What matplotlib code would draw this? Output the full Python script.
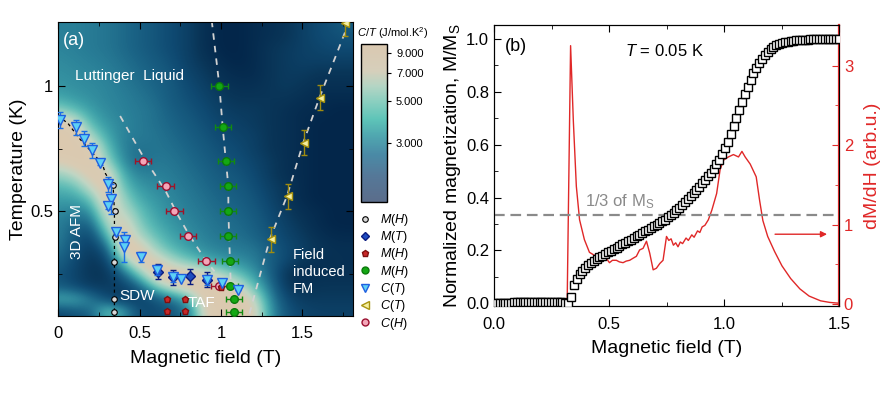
import numpy as np
import matplotlib.pyplot as plt
from matplotlib.colors import LinearSegmentedColormap, LogNorm, Normalize
from matplotlib.lines import Line2D
import matplotlib.cm as cm

plt.rcParams['font.family'] = ['Liberation Sans', 'DejaVu Sans']
plt.rcParams['mathtext.fontset'] = 'custom'
plt.rcParams['mathtext.rm'] = 'Liberation Sans'
plt.rcParams['mathtext.it'] = 'Liberation Sans:italic'
plt.rcParams['mathtext.bf'] = 'Liberation Sans:bold'

# ---------------- panel (a): C/T map ----------------
map_field = [0.0, 0.1, 0.2, 0.3, 0.4, 0.5, 0.6, 0.7, 0.8, 0.9,
             1.0, 1.1, 1.2, 1.3, 1.4, 1.5, 1.6, 1.7, 1.8]
map_temp = [1.25, 1.20, 1.15, 1.10, 1.05, 1.00, 0.95, 0.90, 0.85, 0.80,
            0.75, 0.70, 0.65, 0.60, 0.55, 0.50, 0.45, 0.40, 0.35, 0.30,
            0.25, 0.20, 0.15, 0.10, 0.05]
map_ct = [
    [3.0, 3.0, 2.9, 2.8, 2.6, 2.4, 2.2, 2.0, 1.8, 1.5, 1.3, 1.3, 1.4, 1.5, 1.6, 1.8, 2.0, 2.2, 2.4],
    [3.0, 3.0, 2.9, 2.8, 2.6, 2.4, 2.2, 2.0, 1.8, 1.5, 1.3, 1.3, 1.4, 1.5, 1.6, 1.8, 2.0, 2.1, 2.2],
    [3.1, 3.0, 2.9, 2.8, 2.6, 2.4, 2.2, 2.0, 1.8, 1.5, 1.3, 1.3, 1.4, 1.6, 1.7, 1.8, 1.9, 2.0, 2.0],
    [3.2, 3.1, 3.0, 2.9, 2.7, 2.5, 2.3, 2.1, 1.8, 1.6, 1.4, 1.3, 1.4, 1.6, 1.7, 1.8, 1.8, 1.8, 1.8],
    [3.3, 3.2, 3.1, 3.0, 2.8, 2.6, 2.4, 2.2, 1.9, 1.7, 1.5, 1.4, 1.4, 1.6, 1.7, 1.7, 1.6, 1.6, 1.6],
    [3.4, 3.3, 3.2, 3.1, 2.9, 2.7, 2.5, 2.3, 2.0, 1.8, 1.6, 1.5, 1.5, 1.6, 1.7, 1.6, 1.5, 1.5, 1.5],
    [3.8, 3.5, 3.3, 3.1, 3.0, 2.8, 2.6, 2.3, 2.1, 1.9, 1.7, 1.6, 1.6, 1.6, 1.6, 1.5, 1.4, 1.4, 1.4],
    [5.5, 4.5, 3.6, 3.2, 3.0, 2.9, 2.7, 2.4, 2.2, 2.0, 1.8, 1.7, 1.7, 1.6, 1.5, 1.4, 1.4, 1.3, 1.3],
    [9.0, 8.0, 4.2, 3.4, 3.1, 2.9, 2.7, 2.5, 2.3, 2.1, 1.9, 1.8, 1.7, 1.6, 1.5, 1.4, 1.3, 1.3, 1.3],
    [9.5, 9.5, 6.0, 3.8, 3.0, 2.9, 2.8, 2.6, 2.4, 2.2, 2.0, 1.9, 1.8, 1.6, 1.5, 1.4, 1.3, 1.3, 1.3],
    [9.5, 9.5, 9.0, 4.5, 3.0, 2.7, 2.8, 2.7, 2.5, 2.3, 2.1, 2.0, 1.8, 1.6, 1.5, 1.4, 1.3, 1.3, 1.3],
    [8.0, 9.0, 9.5, 5.5, 3.2, 2.6, 2.9, 2.8, 2.6, 2.4, 2.2, 2.1, 1.9, 1.7, 1.5, 1.4, 1.3, 1.3, 1.3],
    [5.5, 6.5, 9.0, 8.5, 3.8, 3.0, 3.0, 2.9, 2.7, 2.5, 2.3, 2.2, 2.0, 1.7, 1.5, 1.4, 1.3, 1.3, 1.3],
    [4.2, 4.5, 7.0, 9.5, 4.5, 3.4, 3.2, 3.0, 2.8, 2.6, 2.4, 2.3, 2.1, 1.8, 1.6, 1.4, 1.3, 1.3, 1.3],
    [3.6, 3.6, 4.5, 9.5, 5.5, 3.8, 3.4, 3.1, 2.9, 2.7, 2.5, 2.4, 2.2, 1.9, 1.6, 1.4, 1.3, 1.3, 1.3],
    [3.2, 3.0, 3.2, 8.0, 6.5, 4.5, 3.6, 3.2, 3.0, 2.8, 2.6, 2.5, 2.3, 2.0, 1.7, 1.5, 1.4, 1.3, 1.3],
    [3.0, 2.6, 2.4, 6.0, 8.5, 5.0, 3.9, 3.4, 3.1, 2.9, 2.7, 2.6, 2.4, 2.1, 1.8, 1.6, 1.4, 1.3, 1.3],
    [3.0, 2.3, 1.9, 4.0, 9.5, 6.0, 4.5, 3.7, 3.3, 3.0, 2.8, 2.7, 2.5, 2.2, 1.9, 1.7, 1.5, 1.4, 1.4],
    [2.8, 2.2, 1.7, 2.4, 9.0, 9.0, 5.5, 4.2, 3.6, 3.2, 3.0, 2.9, 2.8, 2.4, 2.0, 1.8, 1.6, 1.5, 1.5],
    [2.5, 2.0, 1.6, 1.8, 5.0, 9.0, 8.5, 6.0, 4.8, 4.0, 3.5, 3.3, 3.0, 2.4, 2.0, 1.6, 1.5, 1.5, 1.5],
    [2.2, 1.9, 1.6, 1.6, 2.5, 5.0, 9.5, 9.5, 9.0, 8.0, 6.0, 4.5, 3.5, 2.5, 1.6, 1.4, 1.5, 1.5, 1.5],
    [2.3, 2.0, 1.7, 1.7, 1.8, 2.5, 5.0, 7.5, 9.0, 9.5, 9.5, 7.5, 4.5, 2.8, 1.7, 1.5, 1.6, 1.6, 1.6],
    [4.0, 4.0, 3.0, 2.0, 1.7, 1.8, 2.2, 2.8, 4.0, 9.0, 9.5, 9.5, 7.0, 3.2, 2.0, 1.7, 1.7, 1.7, 1.7],
    [2.0, 2.2, 2.5, 5.0, 4.0, 2.0, 2.0, 2.2, 2.8, 8.0, 9.5, 9.5, 8.5, 3.5, 2.2, 1.9, 1.8, 1.8, 1.8],
    [1.8, 2.0, 2.2, 3.5, 3.0, 2.0, 2.0, 2.2, 2.8, 7.5, 9.5, 9.5, 8.0, 3.5, 2.2, 1.9, 1.8, 1.8, 1.8],
]

# C(T) - cyan triangles
ct_h = [0.011, 0.107, 0.156, 0.206, 0.257, 0.305, 0.325, 0.305, 0.356, 0.408, 0.405,
        0.51, 0.607, 0.706, 0.757, 0.912, 1.008, 1.107]
ct_t = [0.864, 0.835, 0.79, 0.744, 0.693, 0.608, 0.55, 0.52, 0.417, 0.387, 0.357,
        0.317, 0.264, 0.237, 0.231, 0.224, 0.213, 0.184]
ct_err = [0.03, 0.03, 0.03, 0.03, 0.01, 0.03, 0.06, 0.01, 0.01, 0.02, 0.06,
          0.02, 0.02, 0.02, 0.0, 0.02, 0.0, 0.0]
# M(T) - blue diamonds
mt_h = [0.61, 0.706, 0.809, 0.912]
mt_t = [0.258, 0.237, 0.24, 0.226]
mt_err = [0.03, 0.03, 0.03, 0.03]
# M(H) - black open circles
mhb_h = [0.335, 0.346, 0.346, 0.345, 0.345, 0.345]
mhb_t = [0.604, 0.50, 0.397, 0.297, 0.148, 0.097]
# M(H) - dark red pentagons
mhr_h = [0.665, 0.778, 0.665, 0.778, 1.0]
mhr_t = [0.148, 0.148, 0.10, 0.10, 0.197]
# M(H) - green circles
mhg_h = [0.99, 1.01, 1.03, 1.045, 1.045, 1.045, 1.055, 1.055, 1.08, 1.08]
mhg_t = [1.0, 0.837, 0.70, 0.60, 0.50, 0.40, 0.30, 0.20, 0.148, 0.097]
# C(T) - yellow triangles
cty_h = [1.76, 1.61, 1.51, 1.41, 1.307]
cty_t = [1.25, 0.953, 0.773, 0.56, 0.389]
# C(H) - pink circles
ch_h = [0.519, 0.659, 0.714, 0.796, 0.91, 0.99]
ch_t = [0.70, 0.60, 0.50, 0.40, 0.30, 0.20]

# guide lines
guide1_h = [0.38, 0.52, 0.66, 0.73, 0.80, 0.91, 0.96]
guide1_t = [0.88, 0.72, 0.58, 0.49, 0.41, 0.30, 0.26]
guide2_h = [0.943, 0.99, 1.01, 1.03, 1.045, 1.045, 1.05, 1.055, 1.06, 1.07]
guide2_t = [1.26, 1.0, 0.837, 0.70, 0.60, 0.50, 0.40, 0.30, 0.20, 0.08]
guide3_h = [1.79, 1.605, 1.505, 1.405, 1.30, 1.17]
guide3_t = [1.26, 0.953, 0.773, 0.56, 0.389, 0.08]
afm_h = [0.0, 0.06, 0.13, 0.27, 0.29, 0.337, 0.345, 0.345, 0.345]
afm_t = [0.88, 0.85, 0.79, 0.69, 0.65, 0.60, 0.50, 0.30, 0.08]

# ---------------- panel (b): magnetization at 0.05 K ----------------
mag = [0.000, 0.000, 0.000, 0.000, 0.000, 0.000, 0.000,
       0.005, 0.005, 0.005, 0.005, 0.005, 0.005, 0.005, 0.005, 0.005,
       0.005, 0.005, 0.005, 0.005, 0.005, 0.005, 0.005, 0.005, 0.005,
       0.003, 0.000,
       0.025, 0.068, 0.093, 0.110, 0.124, 0.135, 0.144, 0.152, 0.160, 0.167,
       0.174, 0.181, 0.187, 0.193, 0.199, 0.205, 0.211, 0.217, 0.223, 0.229,
       0.235, 0.241, 0.247, 0.253, 0.259, 0.265, 0.272, 0.278, 0.285, 0.291,
       0.297, 0.303, 0.310, 0.317, 0.325, 0.333, 0.342, 0.352, 0.362, 0.372,
       0.383, 0.394, 0.405, 0.417, 0.429, 0.441, 0.454, 0.467, 0.481, 0.495,
       0.510, 0.526, 0.544, 0.564, 0.587, 0.612, 0.640, 0.670, 0.701, 0.732,
       0.763, 0.792, 0.820, 0.846, 0.870, 0.891, 0.910, 0.926, 0.940, 0.952,
       0.962, 0.970, 0.976, 0.981, 0.985, 0.988, 0.990, 0.992, 0.994, 0.995,
       0.996, 0.997, 0.998, 0.998, 0.999, 0.999, 0.999, 1.000, 1.000, 1.000,
       1.000, 1.000, 1.000, 1.000, 1.000]
mag_field = np.linspace(0, 1.5, len(mag))

dmdh_h = [0.0, 0.01, 0.02, 0.05, 0.1, 0.2, 0.3, 0.318, 0.333, 0.345, 0.358, 0.372,
          0.393, 0.415, 0.444, 0.47, 0.488, 0.502, 0.515, 0.532, 0.545, 0.561, 0.575,
          0.59, 0.604, 0.619, 0.633, 0.648, 0.663, 0.677, 0.692, 0.706, 0.721, 0.735,
          0.75, 0.76, 0.77, 0.78, 0.79, 0.80, 0.81, 0.82, 0.835, 0.845, 0.86, 0.87,
          0.885, 0.895, 0.905, 0.917, 0.932, 0.947, 0.968, 0.983, 0.998, 1.019,
          1.041, 1.063, 1.078, 1.092, 1.114, 1.14, 1.155, 1.169, 1.19, 1.22, 1.252,
          1.29, 1.33, 1.37, 1.42, 1.46, 1.5]
dmdh_v = [0.05, 0.04, 0.01, 0.0, 0.01, 0.0, 0.0, 0.0, 3.25, 2.3, 1.48, 1.06,
          0.81, 0.65, 0.60, 0.58, 0.575, 0.52, 0.55, 0.55, 0.53, 0.52, 0.54,
          0.55, 0.575, 0.60, 0.68, 0.70, 0.79, 0.64, 0.43, 0.45, 0.51, 0.55,
          0.85, 0.80, 0.82, 0.74, 0.77, 0.72, 0.78, 0.76, 0.83, 0.80, 0.87, 0.84,
          0.92, 0.90, 0.97, 0.99, 1.06, 1.18, 1.39, 1.69, 1.81, 1.85,
          1.88, 1.85, 1.92, 1.85, 1.76, 1.6, 1.3, 1.05, 0.85, 0.66, 0.48,
          0.32, 0.19, 0.10, 0.04, 0.02, 0.01]

# ---------------- colour maps ----------------
def log_cmap(name, vmin, vmax, anchors):
    lo, hi = np.log10(vmin), np.log10(vmax)
    return LinearSegmentedColormap.from_list(
        name, [((np.log10(v) - lo) / (hi - lo), c) for v, c in anchors])

map_min, map_max = 1.3, 10.0
map_cmap = log_cmap('ct_map', map_min, map_max, [
    (1.3, '#03264a'), (1.6, '#093558'), (2.0, '#0f4a72'), (2.5, '#1b6486'),
    (3.0, '#2a8098'), (3.6, '#3d9fa8'), (4.3, '#5bbab5'), (5.2, '#8ccdbf'),
    (6.5, '#c0d6c4'), (8.0, '#d9ccb4'), (10.0, '#dcc8ae')])
bar_min = 1.46
bar_cmap = log_cmap('ct_bar', bar_min, map_max, [
    (1.46, '#5b6d8b'), (2.0, '#557898'), (2.6, '#4a8aa6'), (3.3, '#50a8b0'),
    (4.0, '#5ec4b8'), (5.0, '#8ccfc0'), (6.0, '#b4d5c4'), (7.2, '#d6cfbb'),
    (10.0, '#dac8b0')])

fig = plt.figure(figsize=(8.85, 3.93), dpi=100)

# ================= panel (a) =================
ax = fig.add_axes([58.3 / 885, 1 - 316 / 393, 294.2 / 885, 294 / 393])
dh = map_field[1] - map_field[0]
dt = map_temp[0] - map_temp[1]
ax.imshow(np.log10(np.array(map_ct)), cmap=map_cmap,
          norm=Normalize(np.log10(map_min), np.log10(map_max)),
          extent=(map_field[0] - dh / 2, map_field[-1] + dh / 2,
                  map_temp[-1] - dt / 2, map_temp[0] + dt / 2),
          origin='upper', aspect='auto', interpolation='bicubic',
          interpolation_stage='data', zorder=0)

gl = dict(color='#d2d2d2', lw=1.3, dashes=(3.6, 3.4), zorder=2)
ax.plot(guide1_h, guide1_t, **gl)
ax.plot(guide2_h, guide2_t, **gl)
ax.plot(guide3_h, guide3_t, **gl)
ax.plot(afm_h, afm_t, color='black', lw=0.9, dashes=(2.5, 2.5), zorder=2)

ax.errorbar(mhg_h, mhg_t, xerr=0.05, fmt='o', ms=5.5, mfc='#14a814', mec='#0b7a0b',
            ecolor='#128a12', elinewidth=1, capsize=2.5, zorder=4)
ax.errorbar(ch_h, ch_t, xerr=0.05, fmt='o', ms=5.5, mfc='#f4a6b8', mec='#9a1030',
            ecolor='#a01428', elinewidth=1, capsize=2.5, zorder=4)
ax.errorbar(cty_h, cty_t, yerr=0.05, fmt='<', ms=6, mfc='#f6f0a0', mec='#a89410',
            ecolor='#a08c10', elinewidth=1, capsize=2.5, zorder=4)
ax.errorbar(mhr_h, mhr_t, yerr=0.006, fmt='p', ms=5, mfc='#c82828', mec='#801010',
            ecolor='#801010', elinewidth=0.8, capsize=1.5, zorder=4)
ax.errorbar(mhb_h, mhb_t, yerr=0.008, fmt='o', ms=4, mfc='#d8d8d8', mec='black',
            ecolor='black', elinewidth=0.8, capsize=1.5, mew=0.8, zorder=4)
ax.errorbar(mt_h, mt_t, yerr=mt_err, fmt='D', ms=5, mfc='#1e4cc0', mec='#0a1c80',
            ecolor='#0a1c80', elinewidth=1, capsize=2.5, zorder=5)
ax.errorbar(ct_h, ct_t, yerr=ct_err, fmt='v', ms=6.5, mfc='#5cd0f6', mec='#1f60e0',
            ecolor='#1a70e8', elinewidth=1, capsize=2.5, zorder=6)

tw = dict(color='white', zorder=7)
ax.text(0.03, 1.18, '(a)', fontsize=13, va='center', ha='left', **tw)
ax.text(0.10, 1.04, 'Luttinger  Liquid', fontsize=11, va='center', ha='left', **tw)
ax.text(0.112, 0.418, '3D AFM', fontsize=11, rotation=90, va='center', ha='center', **tw)
ax.text(0.487, 0.162, 'SDW', fontsize=11, va='center', ha='center', **tw)
ax.text(0.88, 0.133, 'TAF', fontsize=11, va='center', ha='center', **tw)
ax.text(1.443, 0.258, 'Field\ninduced\nFM', fontsize=10.5, va='center', ha='left',
        linespacing=1.25, **tw)

ax.set_xlim(0, 1.808)
ax.set_ylim(0.082, 1.255)
ax.set_xticks([0, 0.5, 1, 1.5])
ax.set_xticklabels(['0', '0.5', '1', '1.5'])
ax.set_xticks([0.25, 0.75, 1.25, 1.75], minor=True)
ax.set_yticks([0.5, 1])
ax.set_yticklabels(['0.5', '1'])
ax.set_yticks([0.25, 0.75], minor=True)
ax.tick_params(which='both', direction='in', top=True, right=True, labelsize=12)
ax.tick_params(which='major', length=5)
ax.tick_params(which='minor', length=3)
ax.tick_params(axis='x', which='both', pad=7)
ax.set_xlabel('Magnetic field (T)', fontsize=14, labelpad=7)
ax.set_ylabel('Temperature (K)', fontsize=14)
ax.yaxis.set_label_coords(-0.105, 0.5)

# colour bar
cax = fig.add_axes([361 / 885, 1 - 202 / 393, 26 / 885, 158 / 393])
sm = cm.ScalarMappable(norm=LogNorm(bar_min, map_max), cmap=bar_cmap)
cb = fig.colorbar(sm, cax=cax)
cb.set_ticks([3, 5, 7, 9])
cb.set_ticklabels(['3.000', '5.000', '7.000', '9.000'])
cb.minorticks_off()
cax.tick_params(labelsize=8, length=3, width=0.8)
cb.outline.set_linewidth(1.0)
fig.text(357 / 885, 1 - 33 / 393, r'$C/T$ (J/mol.K$^2$)', fontsize=8, va='center', ha='left')

# legend
handles = [
    Line2D([], [], ls='none', marker='o', ms=4, mfc='#d8d8d8', mec='black', mew=0.8),
    Line2D([], [], ls='none', marker='D', ms=4.5, mfc='#1e4cc0', mec='#0a1c80'),
    Line2D([], [], ls='none', marker='p', ms=5, mfc='#c82828', mec='#801010'),
    Line2D([], [], ls='none', marker='o', ms=5, mfc='#14a814', mec='#0b7a0b'),
    Line2D([], [], ls='none', marker='v', ms=5.5, mfc='#5cd0f6', mec='#1f60e0'),
    Line2D([], [], ls='none', marker='<', ms=5.5, mfc='#f6f0a0', mec='#a89410'),
    Line2D([], [], ls='none', marker='o', ms=5, mfc='#f4a6b8', mec='#9a1030'),
]
labels = [r'$M(H)$', r'$M(T)$', r'$M(H)$', r'$M(H)$', r'$C(T)$', r'$C(T)$', r'$C(H)$']
fig.legend(handles, labels, loc='upper left', bbox_to_anchor=(360 / 885, 1 - 212 / 393),
           frameon=False, fontsize=9, handlelength=0.8, handletextpad=0.8,
           labelspacing=0.1, borderaxespad=0, borderpad=0)

# ================= panel (b) =================
bx = fig.add_axes([494 / 885, 1 - 306 / 393, 345 / 885, 281 / 393])
bx.axhline(1 / 3, color='#8a8a8a', lw=1.6, dashes=(4.8, 2.6), zorder=1)
bx.plot(mag_field, mag, ls='none', marker='s', ms=5.2, mfc='white', mec='black', mew=1.0, zorder=3)
bx.text(0.396, 0.383, r'1/3 of M$_\mathrm{S}$', fontsize=12, color='#8a8a8a', va='center')
bx.text(0.048, 0.973, '(b)', fontsize=13, va='center')
bx.text(0.57, 0.955, r'$T$ = 0.05 K', fontsize=12, va='center')
bx.set_xlim(0, 1.5)
bx.set_ylim(-0.01, 1.053)
bx.set_xticks([0, 0.5, 1.0, 1.5])
bx.set_xticks([0.25, 0.75, 1.25], minor=True)
bx.set_yticks(np.arange(0, 1.01, 0.2))
bx.set_yticks(np.arange(0.1, 1.01, 0.2), minor=True)
bx.xaxis.set_major_formatter(plt.FormatStrFormatter('%.1f'))
bx.yaxis.set_major_formatter(plt.FormatStrFormatter('%.1f'))
bx.tick_params(which='both', direction='in', top=True, labelsize=12)
bx.tick_params(which='major', length=5)
bx.tick_params(which='minor', length=3)
bx.tick_params(axis='x', which='both', pad=8)
bx.set_xlabel('Magnetic field (T)', fontsize=14, labelpad=6)
bx.set_ylabel(r'Normalized magnetization, M/M$_\mathrm{S}$', fontsize=14)
bx.yaxis.set_label_coords(-0.09, 0.5)

rx = bx.twinx()
rx.plot(dmdh_h, dmdh_v, color='#e02828', lw=1.0, zorder=2)
rx.annotate('', xy=(1.448, 0.878), xytext=(1.222, 0.878),
            arrowprops=dict(arrowstyle='-|>', color='#e02828', lw=1.0,
                            mutation_scale=9, shrinkA=0, shrinkB=0))
rx.set_ylim(-0.025, 3.51)
rx.set_yticks([0, 1, 2, 3])
rx.set_yticks([0.5, 1.5, 2.5], minor=True)
rx.tick_params(which='both', direction='in', colors='#e02828', labelsize=12)
rx.tick_params(which='major', length=5)
rx.tick_params(which='minor', length=3)
rx.spines['right'].set_color('#e02828')
rx.spines['right'].set_linewidth(1.6)
rx.set_ylabel('dM/dH (arb.u.)', fontsize=14, color='#e02828', labelpad=8)
bx.set_zorder(rx.get_zorder() + 1)
bx.patch.set_visible(False)

fig.savefig('out.png', dpi=100)
